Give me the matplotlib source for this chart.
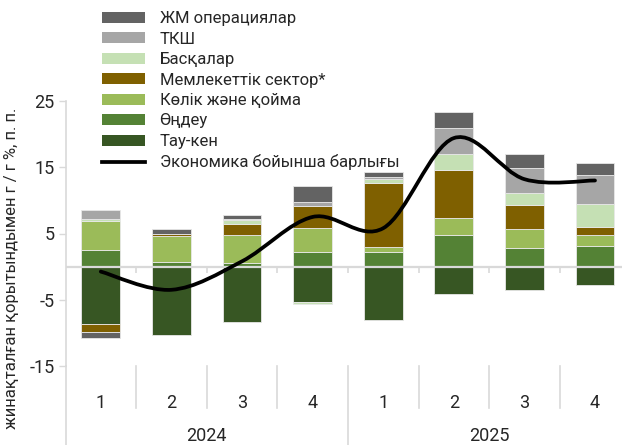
import matplotlib.pyplot as plt
import numpy as np
from matplotlib.path import Path
from matplotlib.patches import PathPatch, Patch
from matplotlib.lines import Line2D
import matplotlib.transforms as mtransforms

plt.rcParams['font.family'] = ['Roboto', 'DejaVu Sans']

quarters = ['1', '2', '3', '4', '1', '2', '3', '4']
years = ['2024', '2025']

# contributions, p.p. (bottom of stack first)
tau_ken = [-8.7, -10.3, -8.4, -5.3, -8.0, -4.2, -3.55, -2.84]
ondeu = [2.5, 0.75, 0.6, 2.16, 2.16, 4.8, 2.84, 3.14]
kolik = [4.4, 3.9, 4.17, 3.72, 0.85, 2.6, 2.77, 1.61]
memleket = [-1.2, 0.2, 1.66, 3.32, 9.65, 7.2, 3.67, 1.21]
baskalar = [0.35, 0.0, 0.55, -0.4, 0.5, 2.35, 1.86, 3.42]
tksh = [1.25, 0.0, 0.2, 0.6, 0.35, 4.0, 3.72, 4.52]
zhm = [-0.8, 0.8, 0.65, 2.3, 0.75, 2.4, 2.1, 1.8]
total = [-0.75, -3.5, 0.8, 7.5, 5.8, 19.4, 13.2, 13.0]

series = [
    ('Тау-кен', tau_ken, '#375623'),
    ('Өңдеу', ondeu, '#548235'),
    ('Көлік және қойма', kolik, '#9bbb59'),
    ('Мемлекеттік сектор*', memleket, '#7f6000'),
    ('Басқалар', baskalar, '#c5e0b4'),
    ('ТКШ', tksh, '#a6a6a6'),
    ('ЖМ операциялар', zhm, '#636363'),
]

W, H = 622, 445
fig = plt.figure(figsize=(W / 100, H / 100), dpi=100)
ax = fig.add_axes([65.5 / W, 1 - 366 / H, 8 * 70.6 / W, 265 / H])

x = np.arange(len(quarters))
pos_bottom = np.zeros(len(x))
neg_bottom = np.zeros(len(x))
handles = []
for name, vals, col in series:
    v = np.array(vals)
    bottom = np.where(v >= 0, pos_bottom, neg_bottom)
    ax.bar(x, v, 0.55, bottom=bottom, color=col, edgecolor='#e8e8e8', linewidth=0.6, zorder=2)
    pos_bottom += np.where(v >= 0, v, 0)
    neg_bottom += np.where(v < 0, v, 0)
    handles.append(Patch(facecolor=col, edgecolor='none', label=name))

# smoothed line (Excel style bezier through the points)
verts = [(x[0], total[0])]
codes = [Path.MOVETO]
n = len(x)
for i in range(n - 1):
    p0 = (x[i - 1], total[i - 1]) if i > 0 else (x[i], total[i])
    p1 = (x[i], total[i])
    p2 = (x[i + 1], total[i + 1])
    p3 = (x[i + 2], total[i + 2]) if i + 2 < n else p2
    c1 = (p1[0] + (p2[0] - p0[0]) / 6, p1[1] + (p2[1] - p0[1]) / 6)
    c2 = (p2[0] - (p3[0] - p1[0]) / 6, p2[1] - (p3[1] - p1[1]) / 6)
    verts += [c1, c2, p2]
    codes += [Path.CURVE4] * 3
ax.add_patch(PathPatch(Path(verts, codes), fill=False, color='black', lw=2.7,
                       capstyle='round', zorder=4))

ax.set_xlim(-0.5, 7.5)
ax.set_ylim(-15, 25)
ax.set_yticks([25, 15, 5, -5, -15])
ax.set_yticklabels(['25', '15', '5', '-5', '-15'])
ax.tick_params(axis='y', length=5, width=1, color='#d9d9d9', pad=3, labelsize=13,
               labelcolor='#262626')

for s in ['top', 'right', 'bottom']:
    ax.spines[s].set_visible(False)
ax.spines['left'].set_color('#d9d9d9')
ax.spines['left'].set_linewidth(1.2)

ax.axhline(0, color='#d9d9d9', lw=1.6, zorder=3)
ax.vlines(np.arange(0.5, 7.5, 1), 0, -0.9, color='#d9d9d9', lw=1.2, zorder=1)

ax.set_xticks(x)
ax.set_xticklabels(quarters)
ax.tick_params(axis='x', length=0, pad=20, labelsize=13, labelcolor='#262626')

trans = mtransforms.blended_transform_factory(ax.transData, ax.transAxes)
for b in np.arange(0.5, 7.5, 1):
    if b == 3.5:
        continue
    ax.add_line(Line2D([b, b], [0, -0.158], transform=trans, color='#d9d9d9', lw=1.2, clip_on=False))
for b in [-0.5, 3.5, 7.5]:
    ax.add_line(Line2D([b, b], [0, -0.35], transform=trans, color='#d9d9d9', lw=1.2, clip_on=False))
for i, yr in enumerate(years):
    ax.text(1.5 + 4 * i, -0.264, yr, transform=trans, ha='center', va='center',
            fontsize=13, color='#262626')

fig.text(12 / W, 1 - 268 / H, 'жинақталған қорытындымен г / г %, п. п.', rotation=90,
         ha='center', va='center', fontsize=12, color='#262626')

handles = handles[::-1] + [Line2D([], [], color='black', lw=2.7, label='Экономика бойынша барлығы')]
fig.legend(handles=handles, loc='upper left', bbox_to_anchor=(102 / W, 1 - 11 / H),
           frameon=False, fontsize=12, handlelength=2.6, handleheight=0.62,
           handletextpad=0.85, labelspacing=0.33, borderpad=0, borderaxespad=0,
           labelcolor='#262626')

fig.savefig('out.png', dpi=100)
